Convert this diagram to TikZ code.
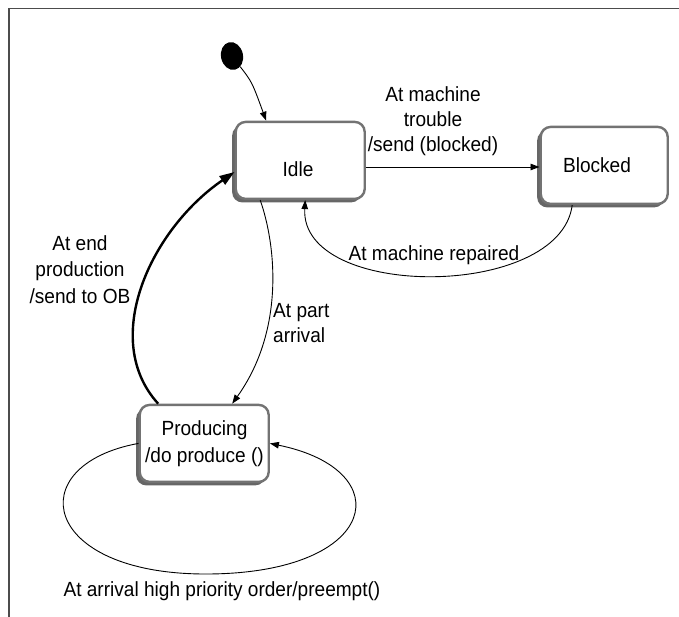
\documentclass[tikz,border=0pt]{standalone}
\usepackage{fontspec}
\setmainfont{Liberation Sans}[FakeStretch=0.93]
\usetikzlibrary{arrows.meta,shadows,shapes.geometric}

\tikzset{
  statebox/.style={draw=black!55, line width=2.4pt, rounded corners=10pt, fill=white,
    minimum width=129pt, minimum height=77pt, inner sep=0pt,
    drop shadow={shadow xshift=-3.5pt, shadow yshift=-3.5pt, fill=black!60, opacity=1}},
  txt/.style={font=\fontsize{20.5}{25}\selectfont, align=center, inner sep=0pt},
  arr/.style={draw, line width=0.9pt, -{Triangle[length=9pt,width=6.5pt]}},
  thickarr/.style={draw, line width=2.4pt, -{Triangle[length=15pt,width=10pt]}},
  frameline/.style={draw=black!70, line width=1.2pt}
}

\begin{document}
\begin{tikzpicture}[x=1pt,y=-1pt]
\useasboundingbox (0,0) rectangle (679,617);

% page frame
\draw[frameline] (9,617) -- (9,8.5) -- (679,8.5);

% states
\node[statebox] (idle) at (300.2,160.4) {};
\node[statebox, minimum width=127pt] (blocked) at (604.2,165.4) {};
\node[statebox] (prod) at (204.2,443.4) {};

\node[txt, anchor=north] (idletxt) at (298,161.5) {Idle};
\node[txt, anchor=north] (blockedtxt) at (597,157) {Blocked};
\node[txt, anchor=north, font=\fontsize{20.5}{26.7}\selectfont] (prodtxt) at (204.5,420.5) {Producing\\/do produce ()};

% initial pseudo-state
\node[ellipse, fill=black, minimum width=22pt, minimum height=28pt, inner sep=0pt, rotate=12] (init) at (232,56) {};

% transitions
\draw[arr] (init) .. controls (252,82) .. ([xshift=-34pt]idle.north);

\coordinate (trouble) at ([yshift=-6.6pt]idle.east);
\draw[arr] (trouble) -- (trouble -| blocked.west);
\node[txt, anchor=north] (troublelbl) at (433,86.5) {At machine\\trouble\\/send (blocked)};

\draw[arr] ([xshift=-32pt]blocked.south) .. controls (560,300) and (300,300) .. ([xshift=5pt]idle.south);
\node[txt, anchor=north] (repairlbl) at (434,245) {At machine repaired};

\draw[arr] ([xshift=-40pt]idle.south) .. controls (276,245) and (285,330) .. ([xshift=28pt]prod.north);
\node[txt, anchor=north west, align=left] (partlbl) at (273,303) {At part\\arrival};

\draw[thickarr] ([xshift=-46pt]prod.north) .. controls (100,340) and (150,230) .. ([yshift=-11.6pt]idle.west);
\node[txt, anchor=north, font=\fontsize{20.5}{26.5}\selectfont] (endlbl) at (80,235) {At end\\production\\/send to OB};

\draw[arr] (prod.west) .. controls (20,465) and (40,575) .. (208,574)
  .. controls (380,573) and (400,470) .. (prod.east);
\node[txt, anchor=north] (preemptlbl) at (222,581) {At arrival high priority order/preempt()};
\end{tikzpicture}
\end{document}
